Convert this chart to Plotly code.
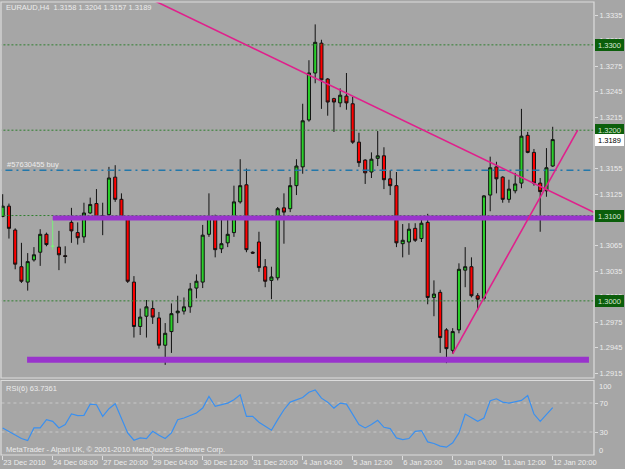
import plotly.graph_objects as go

W, H = 625, 469

# ---------------- data ----------------
bars = list(range(89))
opens = [1.3099, 1.3111, 1.3083, 1.3040, 1.3022, 1.3048, 1.3057, 1.3078, 1.3064, 1.3063,
         1.3053, 1.3092, 1.3080, 1.3075, 1.3103, 1.3114, 1.3099, 1.3101, 1.3145, 1.3119,
         1.3098, 1.3022, 1.2970, 1.2982, 1.2991, 1.2980, 1.2948, 1.2964, 1.2986, 1.2988,
         1.2993, 1.3015, 1.3022, 1.3078, 1.3098, 1.3061, 1.3068, 1.3080, 1.3116, 1.3136,
         1.3057, 1.3069, 1.3040, 1.3024, 1.3027, 1.3109, 1.3108, 1.3135, 1.3157, 1.3212,
         1.3267, 1.3302, 1.3260, 1.3237, 1.3232, 1.3240, 1.3231, 1.3186, 1.3165, 1.3151,
         1.3167, 1.3170, 1.3143, 1.3135, 1.3067, 1.3069, 1.3085, 1.3073, 1.3092, 1.3004,
         1.3010, 1.2966, 1.2942, 1.2966, 1.3036, 1.3040, 1.3006, 1.3003, 1.3124, 1.3157,
         1.3145, 1.3119, 1.3129, 1.3138, 1.3194, 1.3174, 1.3138, 1.3129, 1.3158]
highs = [1.3125, 1.3114, 1.3085, 1.3068, 1.3056, 1.3063, 1.3084, 1.3080, 1.3095, 1.3082,
         1.3064, 1.3109, 1.3092, 1.3115, 1.3121, 1.3131, 1.3115, 1.3157, 1.3159, 1.3126,
         1.3099, 1.3029, 1.2991, 1.3001, 1.3000, 1.2987, 1.2974, 1.2997, 1.3006, 1.3004,
         1.3021, 1.3031, 1.3089, 1.3126, 1.3101, 1.3095, 1.3097, 1.3135, 1.3166, 1.3155,
         1.3058, 1.3081, 1.3049, 1.3040, 1.3110, 1.3126, 1.3145, 1.3166, 1.3231, 1.3282,
         1.3324, 1.3306, 1.3261, 1.3238, 1.3249, 1.3267, 1.3239, 1.3197, 1.3166, 1.3174,
         1.3199, 1.3180, 1.3153, 1.3151, 1.3090, 1.3091, 1.3091, 1.3096, 1.3102, 1.3024,
         1.3013, 1.2968, 1.2968, 1.3044, 1.3063, 1.3051, 1.3009, 1.3124, 1.3169, 1.3163,
         1.3146, 1.3142, 1.3150, 1.3225, 1.3198, 1.3178, 1.3144, 1.3179, 1.3204]
lows = [1.3098, 1.3073, 1.3037, 1.3021, 1.3012, 1.3046, 1.3041, 1.3064, 1.3060, 1.3036,
        1.3044, 1.3068, 1.3066, 1.3068, 1.3102, 1.3097, 1.3077, 1.3098, 1.3116, 1.3095,
        1.3021, 1.2957, 1.2960, 1.2957, 1.2973, 1.2944, 1.2925, 1.2939, 1.2974, 1.2984,
        1.2986, 1.3003, 1.3015, 1.3075, 1.3051, 1.3056, 1.3063, 1.3075, 1.3114, 1.3057,
        1.3055, 1.3034, 1.3016, 1.3002, 1.3024, 1.3067, 1.3104, 1.3124, 1.3149, 1.3210,
        1.3255, 1.3225, 1.3217, 1.3198, 1.3227, 1.3224, 1.3184, 1.3157, 1.3137, 1.3144,
        1.3158, 1.3131, 1.3124, 1.3063, 1.3051, 1.3054, 1.3069, 1.3069, 1.2996, 1.2982,
        1.2939, 1.2927, 1.2938, 1.2962, 1.3016, 1.3004, 1.2989, 1.3001, 1.3105, 1.3126,
        1.3115, 1.3115, 1.3126, 1.3132, 1.3173, 1.3135, 1.3081, 1.3122, 1.3157]
closes = [1.3111, 1.3085, 1.3043, 1.3023, 1.3046, 1.3054, 1.3078, 1.3066, 1.3064, 1.3054,
          1.3052, 1.3082, 1.3074, 1.3103, 1.3113, 1.3098, 1.3100, 1.3144, 1.3119, 1.3098,
          1.3023, 1.2970, 1.2981, 1.2993, 1.2981, 1.2948, 1.2962, 1.2985, 1.2988, 1.2993,
          1.3014, 1.3023, 1.3077, 1.3098, 1.3060, 1.3067, 1.3078, 1.3116, 1.3135, 1.3060,
          1.3056, 1.3039, 1.3023, 1.3028, 1.3108, 1.3104, 1.3135, 1.3158, 1.3211, 1.3267,
          1.3303, 1.3259, 1.3233, 1.3233, 1.3241, 1.3232, 1.3186, 1.3162, 1.3150, 1.3166,
          1.3170, 1.3142, 1.3135, 1.3068, 1.3071, 1.3084, 1.3071, 1.3091, 1.3004, 1.3008,
          1.2957, 1.2944, 1.2964, 1.3037, 1.3040, 1.3006, 1.3002, 1.3123, 1.3156, 1.3143,
          1.3119, 1.3131, 1.3137, 1.3193, 1.3174, 1.3138, 1.3128, 1.3156, 1.3189]
rsi = [35.6, 31.0, 25.6, 21.0, 18.3, 35.6, 35.6, 47.0, 44.7, 35.6,
       40.2, 54.8, 52.5, 53.0, 68.5, 67.6, 51.6, 62.1, 68.9, 49.3,
       28.8, 18.7, 21.9, 21.0, 31.0, 25.6, 21.0, 28.8, 47.0, 49.3,
       52.5, 56.2, 63.0, 79.0, 65.3, 67.6, 69.9, 74.4, 81.3, 51.6,
       51.6, 43.4, 37.9, 32.4, 47.0, 60.7, 71.2, 74.4, 77.6, 84.9,
       88.1, 76.7, 71.2, 63.0, 69.9, 68.5, 53.9, 40.2, 35.6, 40.2,
       46.1, 36.5, 34.7, 21.9, 19.6, 21.0, 31.0, 32.0, 16.4, 14.2,
       10.5, 9.1, 15.1, 28.8, 54.8, 49.3, 44.7, 49.3, 73.1, 75.8,
       71.2, 69.9, 72.1, 73.5, 80.4, 54.8, 44.7, 54.8, 63.7361]
special_bar = 8                      # light green marker bar
tick_bars = [0, 8, 16, 24, 32, 40, 48, 56, 64, 72, 80, 88]
tick_labels = ["23 Dec 2010", "24 Dec 08:00", "27 Dec 20:00", "29 Dec 04:00",
               "30 Dec 12:00", "31 Dec 20:00", "4 Jan 04:00", "5 Jan 12:00",
               "6 Jan 20:00", "10 Jan 04:00", "11 Jan 12:00", "12 Jan 20:00"]
price_ticks = [1.3335, 1.3305, 1.3275, 1.3245, 1.3215, 1.3185, 1.3155, 1.3125,
               1.3095, 1.3065, 1.3035, 1.3005, 1.2975, 1.2945, 1.2915]
levels = [1.3300, 1.3200, 1.3100, 1.3000]
order_price = 1.3153
order_label = "#57630455 buy"
current_price = 1.3189
upper_support = {"start": 8, "end": 96, "price": 1.3097}
lower_support = {"start": 3.9, "end": 93.8, "price": 1.2931}
trend_down = {"x": [50, 88], "p": [1.3261, 1.3127]}
trend_up = {"x": [72, 92], "p": [1.2938, 1.3200]}
rsi_levels = [70, 30]

# ---------------- style / geometry ----------------
BG = "#a6a6a6"
FONT = "Liberation Sans, Arial, sans-serif"
FS = 7.5
TXT = "#ececec"
FRAME = "#dcdcdc"
L, R = 1, 594
MT, MB = 2, 378
RT, RB = 380.5, 455

def fx(px):
    return px / W

def fy(py):
    return 1 - py / H

fig = go.Figure()

# level lines
for lv in levels:
    fig.add_trace(go.Scatter(x=[-5, 100], y=[lv, lv], mode="lines",
                             line=dict(color="#2f7f2f", width=1, dash="2px,2px"),
                             hoverinfo="skip", showlegend=False))
fig.add_trace(go.Scatter(x=[-5, 100], y=[order_price, order_price], mode="lines",
                         line=dict(color="#2277aa", width=1.5, dash="7px,4px,2px,4px"),
                         hoverinfo="skip", showlegend=False))

norm = [i for i in bars if i != special_bar]
fig.add_trace(go.Candlestick(
    x=norm, open=[opens[i] for i in norm], high=[highs[i] for i in norm],
    low=[lows[i] for i in norm], close=[closes[i] for i in norm],
    increasing=dict(line=dict(color="#111111", width=1), fillcolor="#2ad02a"),
    decreasing=dict(line=dict(color="#111111", width=1), fillcolor="#ff0000"),
    whiskerwidth=0, showlegend=False, hoverinfo="skip"))
fig.add_trace(go.Candlestick(
    x=[special_bar], open=[opens[special_bar]], high=[highs[special_bar]],
    low=[lows[special_bar]], close=[closes[special_bar]],
    increasing=dict(line=dict(color="#7cf07c", width=1), fillcolor="#7cf07c"),
    decreasing=dict(line=dict(color="#7cf07c", width=1), fillcolor="#7cf07c"),
    whiskerwidth=0, showlegend=False, hoverinfo="skip"))

# support bands
for sup, wd in ((upper_support, 5), (lower_support, 6)):
    fig.add_trace(go.Scatter(x=[sup["start"], sup["end"]], y=[sup["price"], sup["price"]],
                             mode="lines", line=dict(color="#9933cc", width=wd),
                             hoverinfo="skip", showlegend=False))

# trend lines
sl = (trend_down["p"][1] - trend_down["p"][0]) / (trend_down["x"][1] - trend_down["x"][0])
xs = [0, 100]
fig.add_trace(go.Scatter(x=xs, y=[trend_down["p"][0] + sl * (v - trend_down["x"][0]) for v in xs],
                         mode="lines", line=dict(color="#e0208c", width=1.6),
                         hoverinfo="skip", showlegend=False))
fig.add_trace(go.Scatter(x=trend_up["x"], y=trend_up["p"], mode="lines",
                         line=dict(color="#e0208c", width=1.6),
                         hoverinfo="skip", showlegend=False))

# RSI
for lv in rsi_levels:
    fig.add_trace(go.Scatter(x=[-5, 100], y=[lv, lv], yaxis="y2", mode="lines",
                             line=dict(color="#c8c8c8", width=1, dash="3px,3px"),
                             hoverinfo="skip", showlegend=False))
fig.add_trace(go.Scatter(x=bars, y=rsi, yaxis="y2", mode="lines",
                         line=dict(color="#3a90f0", width=1.2),
                         hoverinfo="skip", showlegend=False))

bar_px = 6.25
x0_px = 2.7
xr = [(L - x0_px) / bar_px, (R - x0_px) / bar_px]
pix_per_price = 25.6 / 0.003
yr = [1.3335 - (MB - 15) / pix_per_price, 1.3335 + (15 - MT) / pix_per_price]
rsi_pp = 29 / 40
rr = [30 - (RB - 432) / rsi_pp, 70 + (403 - RT) / rsi_pp]

tf = dict(family=FONT, size=FS, color=TXT)
fig.update_layout(
    width=W, height=H, margin=dict(l=0, r=0, t=0, b=0, autoexpand=False),
    paper_bgcolor=BG, plot_bgcolor=BG,
    font=tf, showlegend=False,
    xaxis=dict(domain=[fx(L), fx(R)], range=xr, anchor="y2", automargin=False,
               tickmode="array", tickvals=tick_bars, ticktext=tick_labels,
               ticks="outside", ticklen=4, tickcolor=FRAME, tickwidth=1,
               ticklabelposition="outside right", tickangle=0,
               showgrid=False, zeroline=False, showline=False,
               rangeslider=dict(visible=False), fixedrange=True, tickfont=tf),
    yaxis=dict(domain=[fy(MB), fy(MT)], range=yr, anchor="x", side="right", automargin=False,
               tickmode="array", tickvals=price_ticks,
               ticktext=[f"{v:.4f}" for v in price_ticks],
               ticks="outside", ticklen=3, tickcolor=FRAME,
               showgrid=False, zeroline=False, showline=False, tickfont=tf),
    yaxis2=dict(domain=[fy(RB), fy(RT)], range=rr, anchor="x", side="right", automargin=False,
                tickmode="array", tickvals=rsi_levels,
                ticktext=[str(v) for v in rsi_levels],
                ticks="outside", ticklen=3, tickcolor=FRAME,
                showgrid=False, zeroline=False, showline=False, tickfont=tf),
)

# frames
shapes = []
for (x0, y0, x1, y1) in ((L, MT, R, MB), (L, RT, R, RB)):
    shapes.append(dict(type="rect", xref="paper", yref="paper",
                       x0=fx(x0), x1=fx(x1), y0=fy(y1), y1=fy(y0),
                       line=dict(color=FRAME, width=1.2), fillcolor="rgba(0,0,0,0)", layer="above"))
fig.update_layout(shapes=shapes)

ann = []
o, h, l, c = opens[-1], highs[-1], lows[-1], closes[-1]
ann.append(dict(text=f"EURAUD,H4  {o:.4f} {h:.4f} {l:.4f} {c:.4f}", xref="paper", yref="paper",
                x=fx(4), y=fy(8), xanchor="left", yanchor="middle", showarrow=False, font=tf))
ann.append(dict(text=order_label, xref="paper", yref="y", x=fx(5), y=order_price,
                xanchor="left", yanchor="bottom", yshift=-1, showarrow=False, font=tf))
for lv in levels:
    ann.append(dict(text=f"{lv:.4f}", xref="paper", yref="y", x=fx(595), y=lv,
                    xanchor="left", yanchor="middle", showarrow=False,
                    bgcolor="#0b5e0b", bordercolor="#0b5e0b", borderpad=0, width=27, height=10,
                    font=dict(family=FONT, size=FS, color="#d8e8d8")))
ann.append(dict(text=f"{current_price:.4f}", xref="paper", yref="y", x=fx(595), y=current_price,
                xanchor="left", yanchor="middle", showarrow=False,
                bgcolor="#ffffff", bordercolor="#ffffff", borderpad=0, width=27, height=10,
                font=dict(family=FONT, size=FS, color="#000000")))
ann.append(dict(text=f"RSI(6) {rsi[-1]:.4f}", xref="paper", yref="paper", x=fx(4), y=fy(388),
                xanchor="left", yanchor="middle", showarrow=False, font=tf))
ann.append(dict(text="MetaTrader - Alpari UK, © 2001-2010 MetaQuotes Software Corp.",
                xref="paper", yref="paper", x=fx(4), y=fy(449),
                xanchor="left", yanchor="middle", showarrow=False, font=tf))
for txt, py in (("100", 386), ("0", 450)):
    ann.append(dict(text=txt, xref="paper", yref="paper", x=fx(597), y=fy(py),
                    xanchor="left", yanchor="middle", showarrow=False, font=tf))
fig.update_layout(annotations=ann)

fig.write_html("out.html")
